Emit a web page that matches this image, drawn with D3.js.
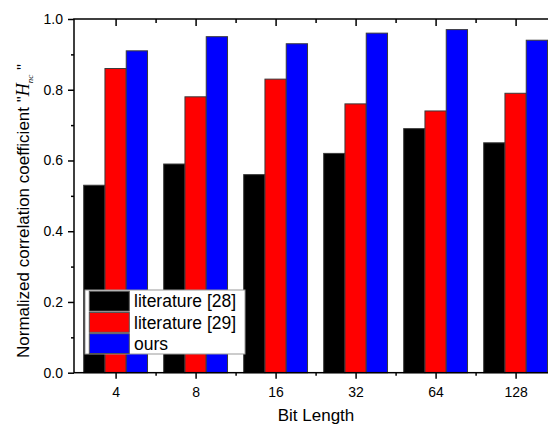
<!DOCTYPE html>
<html>
<head>
    <meta charset="utf-8">
    <script src="https://cdnjs.cloudflare.com/ajax/libs/d3/7.8.5/d3.min.js"></script>
    <style>
        body {
            margin: 0;
            overflow: hidden;
            background-color: #fff;
            font-family: 'Liberation Sans', Arial, sans-serif;
        }
        .axis path { display: none; }
        .axis line { stroke: #000; stroke-width: 1.5; }
        .axis text { font: 14px 'Liberation Sans', Arial, sans-serif; fill: #000; }
    </style>
</head>
<body>
    <svg width="600" height="427"></svg>
    <script>
        // chart values
        var categories = ["4", "8", "16", "32", "64", "128"];
        var lit28 = [0.53, 0.59, 0.56, 0.62, 0.69, 0.65];
        var lit29 = [0.86, 0.78, 0.83, 0.76, 0.74, 0.79];
        var ours = [0.91, 0.95, 0.93, 0.96, 0.97, 0.94];
        var seriesNames = ["literature [28]", "literature [29]", "ours"];
        var seriesColors = ["#000000", "#ff0000", "#0000ff"];
        var yMajor = [0, 0.2, 0.4, 0.6, 0.8, 1.0];
        var yMinor = [0.1, 0.3, 0.5, 0.7, 0.9];

        var series = [lit28, lit29, ours];

        //define chart margins
        var svg = d3.select("svg"),
            margin = {top: 19, left: 74},
            width = 484,
            height = 353.7,
            g = svg.append("g").attr("transform", "translate(" + margin.left + "," + margin.top + ")");

        //define scales (category index 1..6)
        var x = d3.scaleLinear().domain([0.48, 6.53]).range([0, width]),
            y = d3.scaleLinear().domain([0, 1]).range([height, 0]);
        var bw = x(1.266) - x(1);
        var idx = categories.map(function(d, i) { return i + 1; });
        var mids = idx.slice(0, -1).map(function(d) { return d + 0.5; });

        //bars
        series.forEach(function(vals, s) {
            g.selectAll(".bar" + s)
                .data(vals)
                .enter()
                .append("rect")
                .attr("class", "bar" + s)
                .attr("x", function(d, i) { return x(i + 1) + (s - 1) * bw - bw / 2; })
                .attr("y", function(d) { return y(d); })
                .attr("width", bw)
                .attr("height", function(d) { return y(0) - y(d); })
                .style("fill", seriesColors[s])
                .style("stroke", "#3a3a3a")
                .style("stroke-width", 1);
        });

        //bottom axis
        g.append("g")
            .attr("class", "axis")
            .attr("transform", "translate(0," + height + ")")
            .call(d3.axisBottom(x).tickValues(idx).tickSize(6).tickSizeOuter(0).tickPadding(8)
                .tickFormat(function(d) { return categories[d - 1]; }));
        g.append("g")
            .attr("class", "axis")
            .attr("transform", "translate(0," + height + ")")
            .call(d3.axisBottom(x).tickValues(mids).tickSize(3).tickSizeOuter(0).tickFormat(""));

        //top axis, ticks inward
        g.append("g")
            .attr("class", "axis")
            .call(d3.axisTop(x).tickValues(idx).tickSize(-7).tickSizeOuter(0).tickFormat(""));
        g.append("g")
            .attr("class", "axis")
            .call(d3.axisTop(x).tickValues(mids).tickSize(-4).tickSizeOuter(0).tickFormat(""));

        //left axis
        g.append("g")
            .attr("class", "axis")
            .call(d3.axisLeft(y).tickValues(yMajor).tickSize(6).tickSizeOuter(0).tickPadding(5)
                .tickFormat(d3.format(".1f")));
        g.append("g")
            .attr("class", "axis")
            .call(d3.axisLeft(y).tickValues(yMinor).tickSize(3).tickSizeOuter(0).tickFormat(""));

        //plot frame
        g.append("rect")
            .attr("x", 0)
            .attr("y", 0)
            .attr("width", width)
            .attr("height", height)
            .style("fill", "none")
            .style("stroke", "#000")
            .style("stroke-width", 1.5);

        //axis titles
        svg.append("text")
            .attr("x", 316)
            .attr("y", 421)
            .attr("text-anchor", "middle")
            .style("font", "17px 'Liberation Sans', Arial, sans-serif")
            .text("Bit Length");

        var yt = svg.append("text")
            .attr("transform", "translate(29,358) rotate(-90)")
            .attr("text-anchor", "start")
            .style("font", "17px 'Liberation Sans', Arial, sans-serif");
        yt.append("tspan").text("Normalized correlation coefficient \"");
        yt.append("tspan")
            .style("font", "italic 18px 'Liberation Serif', 'Times New Roman', serif")
            .text("H");
        yt.append("tspan")
            .attr("dy", 4)
            .style("font", "italic 9px 'Liberation Serif', 'Times New Roman', serif")
            .text("nc");
        yt.append("tspan")
            .attr("dy", -4)
            .text(" \"");

        //legend
        var legend = svg.append("g").attr("transform", "translate(85,290)");
        legend.append("rect")
            .attr("width", 160)
            .attr("height", 64)
            .style("fill", "#fff")
            .style("stroke", "#999")
            .style("stroke-width", 1);
        seriesNames.forEach(function(name, i) {
            legend.append("rect")
                .attr("x", 4.3)
                .attr("y", 1.3 + i * 21.2)
                .attr("width", 40)
                .attr("height", 19.8)
                .style("fill", seriesColors[i])
                .style("stroke", "#555")
                .style("stroke-width", 1);
            legend.append("text")
                .attr("x", 49)
                .attr("y", 11.2 + i * 21.2)
                .attr("dy", "0.35em")
                .style("font", "17.5px 'Liberation Sans', Arial, sans-serif")
                .text(name);
        });
    </script>
</body>
</html>
